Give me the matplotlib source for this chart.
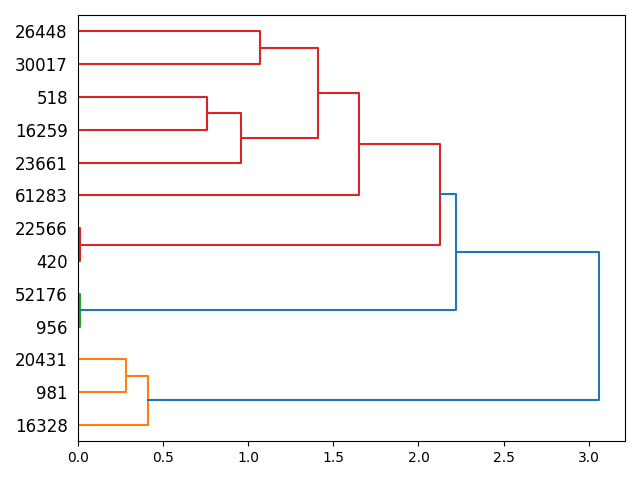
import matplotlib
matplotlib.use("Agg")
import matplotlib.pyplot as plt

# leaves, bottom to top
labels = ["16328", "981", "20431", "956", "52176", "420", "22566",
          "61283", "23661", "16259", "518", "30017", "26448"]

# merges: new node ids start at len(labels)
left_child = [1, 0, 3, 5, 9, 8, 11, 18, 7, 16, 15, 14]
right_child = [2, 13, 4, 6, 10, 17, 12, 19, 20, 21, 22, 23]
heights = [0.282, 0.412, 0.015, 0.015, 0.759, 0.959, 1.071,
           1.412, 1.653, 2.129, 2.218, 3.059]
link_colors = ["C1", "C1", "C2", "C3", "C3", "C3", "C3",
               "C3", "C3", "C3", "C0", "C0"]

n = len(labels)
pos = {i: 5 + 10 * i for i in range(n)}
hgt = {i: 0.0 for i in range(n)}

fig, ax = plt.subplots(figsize=(6.4, 4.8), dpi=100)
for k in range(len(heights)):
    a, b, h = left_child[k], right_child[k], heights[k]
    ax.plot([hgt[a], h, h, hgt[b]], [pos[a], pos[a], pos[b], pos[b]],
            color=link_colors[k], lw=1.5)
    pos[n + k] = (pos[a] + pos[b]) / 2
    hgt[n + k] = h

ax.set_ylim(0, 10 * n)
ax.set_xlim(0, max(heights) * 1.05)
ax.set_yticks([5 + 10 * i for i in range(n)])
ax.set_yticklabels(labels, fontsize=12)
ax.tick_params(axis="y", left=False)
fig.tight_layout()
fig.savefig("out.png")
